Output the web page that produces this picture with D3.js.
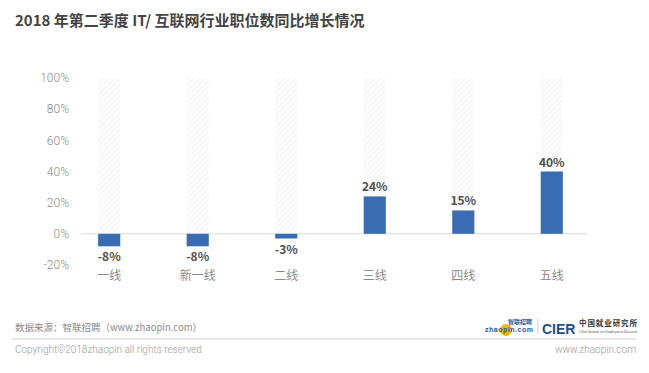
<!DOCTYPE html>
<html>
<head>
<meta charset="utf-8">
<script src="https://cdn.jsdelivr.net/npm/d3@7"></script>
<style>
  body { margin: 0; background: #fff; }
  svg { display: block; font-family: "Noto Sans CJK SC", "Noto Sans", sans-serif; }
</style>
</head>
<body>
<div id="chart"></div>
<script>
// chart data
const categories = ["一线", "新一线", "二线", "三线", "四线", "五线"];
const growth = [-8, -8, -3, 24, 15, 40];
const yTicks = [-20, 0, 20, 40, 60, 80, 100];

const width = 649, height = 373;

const svg = d3.select("#chart").append("svg")
	.attr("width", width)
	.attr("height", height);

// faint diagonal hatch for the background columns
const defs = svg.append("defs");
const pat = defs.append("pattern")
	.attr("id", "hatch")
	.attr("patternUnits", "userSpaceOnUse")
	.attr("width", 4)
	.attr("height", 4)
	.attr("patternTransform", "rotate(45)");
pat.append("rect").attr("width", 4).attr("height", 4).attr("fill", "#fcfcfc");
pat.append("line")
	.attr("x1", 0).attr("y1", 0).attr("x2", 0).attr("y2", 4)
	.attr("stroke", "#f3f3f3").attr("stroke-width", 1.5);

const x = d3.scaleBand()
	.domain(categories)
	.range([76, 585])
	.paddingInner(0.75)
	.paddingOuter(0.25);

const y = d3.scaleLinear()
	.domain([-20, 100])
	.range([265, 78]);

// title
svg.append("text")
	.attr("x", 15)
	.attr("y", 26)
	.attr("fill", "#444")
	.attr("font-size", 15)
	.attr("font-weight", 600)
	.text("2018 年第二季度 IT/ 互联网行业职位数同比增长情况");

// y tick labels
svg.append("g")
	.selectAll("text")
	.data(yTicks)
	.join("text")
	.attr("x", 69)
	.attr("y", (d) => y(d))
	.attr("dy", "0.35em")
	.attr("text-anchor", "end")
	.attr("fill", "#8a8a8a")
	.attr("font-size", 12)
	.attr("font-family", "Roboto, sans-serif")
	.attr("font-weight", 300)
	.text((d) => d + "%");

// background columns up to 100%
svg.append("g")
	.selectAll("rect")
	.data(categories)
	.join("rect")
	.attr("x", (d) => x(d))
	.attr("width", x.bandwidth())
	.attr("y", y(100))
	.attr("height", y(0) - y(100))
	.attr("fill", "url(#hatch)");

// zero line
svg.append("line")
	.attr("x1", 81)
	.attr("x2", 587)
	.attr("y1", y(0))
	.attr("y2", y(0))
	.attr("stroke", "#d6d9de")
	.attr("stroke-width", 1);

// bars
svg.append("g")
	.selectAll("rect")
	.data(growth)
	.join("rect")
	.attr("x", (d, i) => x(categories[i]))
	.attr("width", x.bandwidth())
	.attr("y", (d) => y(Math.max(0, d)))
	.attr("height", (d) => Math.abs(y(d) - y(0)))
	.attr("fill", "#3a6cb4");

// value labels
svg.append("g")
	.selectAll("text")
	.data(growth)
	.join("text")
	.attr("x", (d, i) => x(categories[i]) + x.bandwidth() / 2)
	.attr("y", (d) => d >= 0 ? y(d) - 5 : y(d) + 15)
	.attr("text-anchor", "middle")
	.attr("fill", "#505050")
	.attr("font-size", 12)
	.attr("font-weight", 700)
	.text((d) => d + "%");

// category labels
svg.append("g")
	.selectAll("text")
	.data(categories)
	.join("text")
	.attr("x", (d) => x(d) + x.bandwidth() / 2)
	.attr("y", 280)
	.attr("text-anchor", "middle")
	.attr("fill", "#8a8a8a")
	.attr("font-size", 12)
	.text((d) => d);

// footer
svg.append("text")
	.attr("x", 15)
	.attr("y", 331)
	.attr("fill", "#8a8a8a")
	.attr("font-size", 9.5)
	.text("数据来源：智联招聘（www.zhaopin.com）");

svg.append("line")
	.attr("x1", 12).attr("x2", 636)
	.attr("y1", 339).attr("y2", 339)
	.attr("stroke", "#d0d0d0");

svg.append("text")
	.attr("x", 15)
	.attr("y", 353)
	.attr("fill", "#9a9a9a")
	.attr("font-size", 10)
	.attr("font-family", "Roboto, sans-serif")
	.attr("font-weight", 300)
	.text("Copyright©2018zhaopin all rights reserved");

svg.append("text")
	.attr("x", 636)
	.attr("y", 353)
	.attr("text-anchor", "end")
	.attr("fill", "#9a9a9a")
	.attr("font-size", 10)
	.attr("font-family", "Roboto, sans-serif")
	.attr("font-weight", 300)
	.text("www.zhaopin.com");

// logos (approximated with text)
const logo = svg.append("g");
logo.append("circle").attr("cx", 506).attr("cy", 330).attr("r", 6).attr("fill", "#f5b21b");
logo.append("text")
	.attr("x", 485).attr("y", 332)
	.attr("fill", "#1f58a8").attr("font-size", 7).attr("font-weight", 700)
	.attr("font-family", "Arial, sans-serif")
	.attr("textLength", 48)
	.text("zhaopin.com");
logo.append("text")
	.attr("x", 508).attr("y", 324)
	.attr("fill", "#1f58a8").attr("font-size", 6).attr("font-weight", 700)
	.text("智联招聘");
logo.append("line")
	.attr("x1", 538).attr("x2", 538).attr("y1", 319).attr("y2", 334)
	.attr("stroke", "#ccc");
logo.append("text")
	.attr("x", 542).attr("y", 334)
	.attr("fill", "#1f4e8c").attr("font-size", 14).attr("font-weight", 700)
	.attr("font-family", "Arial, sans-serif")
	.text("CIER");
logo.append("text")
	.attr("x", 579).attr("y", 326)
	.attr("fill", "#333").attr("font-size", 7.5).attr("font-weight", 700)
	.attr("textLength", 58)
	.text("中国就业研究所");
logo.append("text")
	.attr("x", 579).attr("y", 333)
	.attr("fill", "#555").attr("font-size", 3.6)
	.attr("font-family", "serif")
	.attr("textLength", 58)
	.text("China Institute for Employment Research");
</script>
</body>
</html>
